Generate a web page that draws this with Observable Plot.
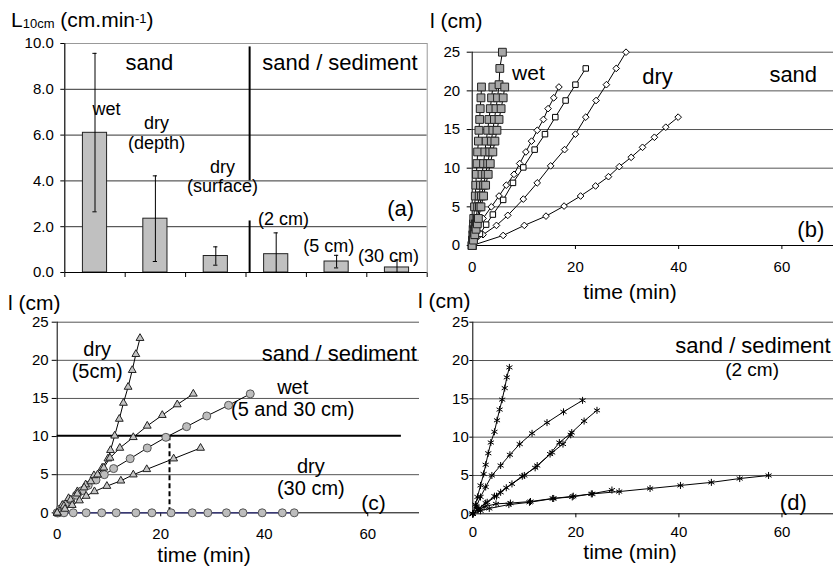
<!DOCTYPE html>
<html><head><meta charset="utf-8">
<script src="https://cdn.jsdelivr.net/npm/d3@7"></script>
<script src="https://cdn.jsdelivr.net/npm/@observablehq/plot@0.6"></script>
<style>
body{margin:0;background:#fff;}
#fig{position:relative;width:833px;height:566px;overflow:hidden;font-family:"Liberation Sans",Arial,Helvetica,sans-serif;color:#000;background:#fff;}
#fig svg{position:absolute;max-width:none;}
.lab{position:absolute;white-space:nowrap;line-height:1;font-size:21px;}
</style></head><body><div id="fig"></div>
<script>
// ---------- Panel (a) data ----------
const barCategories = ["wet", "dry (depth)", "dry (surface)", "(2 cm)", "(5 cm)", "(30 cm)"];
const barMeans = [6.1, 2.35, 0.72, 0.8, 0.48, 0.22];
const barErrLow = [2.65, 0.48, 0.32, 0.0, 0.2, 0.0];
const barErrHigh = [9.57, 4.22, 1.12, 1.73, 0.75, 0.55];
const aTicks = [0, 2, 4, 6, 8, 10];

// ---------- Panel (b) data: sand ----------
const bWet1_t = [0, 0.06, 0.12, 0.18, 0.25, 0.3, 0.45, 0.6, 0.7, 0.8, 0.95, 1.05, 1.2, 1.3, 1.45, 1.55, 1.7, 1.8];
const bWet1_l = [0, 0.7, 1.4, 2.1, 2.8, 3.5, 5.0, 6.4, 7.8, 9.2, 10.6, 12.1, 13.5, 14.9, 16.3, 17.7, 19.1, 20.5];
const bWet2_t = [0, 0.15, 0.3, 0.45, 0.6, 0.75, 1.05, 1.35, 1.6, 1.9, 2.2, 2.45, 2.7, 3.0, 3.25, 3.5, 3.75, 4.0];
const bWet2_l = [0, 0.7, 1.4, 2.1, 2.8, 3.5, 5.0, 6.4, 7.8, 9.2, 10.6, 12.1, 13.5, 14.9, 16.3, 17.7, 19.1, 20.5];
const bWet3_t = [0, 0.2, 0.4, 0.6, 0.8, 1.0, 1.4, 1.8, 2.2, 2.6, 3.0, 3.4, 3.7, 4.0, 4.3, 4.6, 4.9, 5.2, 5.35, 5.85];
const bWet3_l = [0, 0.7, 1.4, 2.1, 2.8, 3.5, 5.0, 6.4, 7.8, 9.2, 10.6, 12.1, 13.5, 14.9, 16.3, 17.7, 19.1, 20.8, 22.9, 25.0];
const bWet4_t = [0, 0.25, 0.5, 0.75, 1.0, 1.2, 1.7, 2.2, 2.6, 3.1, 3.5, 4.0, 4.4, 4.8, 5.2, 5.6, 6.0, 6.3];
const bWet4_l = [0, 0.7, 1.4, 2.1, 2.8, 3.5, 5.0, 6.4, 7.8, 9.2, 10.6, 12.1, 13.5, 14.9, 16.3, 17.7, 19.1, 20.5];
const bDryA_t = [0, 1.0, 2.1, 3.7, 5.2, 6.6, 8.1, 9.2, 10.4, 11.5, 12.6, 13.8, 14.7, 15.8, 16.8];
const bDryA_l = [0, 1.9, 3.5, 5.0, 6.4, 7.8, 9.2, 10.6, 12.1, 13.5, 14.9, 16.3, 17.7, 19.1, 20.5];
const bDrySq_t = [0, 1.5, 2.7, 4.0, 6.0, 7.9, 9.9, 12.1, 14.1, 16.1, 18.1, 20.0, 22.0];
const bDrySq_l = [0, 1.5, 2.7, 4.0, 5.9, 8.1, 10.1, 12.4, 14.4, 16.6, 18.75, 20.8, 22.9];
const bDryB_t = [0, 2.1, 4.7, 6.9, 9.9, 12.6, 15.2, 17.9, 20.0, 22.0, 24.0, 26.0, 27.9, 29.8];
const bDryB_l = [0, 1.4, 2.6, 3.9, 6.0, 8.1, 10.3, 12.4, 14.4, 16.6, 18.75, 20.8, 22.9, 25.0];
const bDryC_t = [0, 6.0, 10.1, 14.3, 17.8, 21.0, 23.9, 26.4, 28.5, 30.8, 33.0, 35.3, 37.5, 39.9];
const bDryC_l = [0, 1.3, 2.6, 3.8, 5.1, 6.4, 7.7, 8.9, 10.2, 11.4, 12.7, 14.0, 15.3, 16.6];

// ---------- Panel (c) data: sand / sediment ----------
const cDry5a_t = [0, 1.0, 2.2, 3.9, 5.5, 7.1, 8.7, 9.8, 10.3, 11.1, 12.0, 12.8, 13.7, 14.5, 15.2, 16.0];
const cDry5a_l = [0, 1.0, 1.9, 2.8, 3.7, 4.9, 5.9, 7.1, 8.2, 10.1, 12.3, 14.4, 16.5, 18.7, 20.8, 22.9];
const cDry5b_t = [0, 1.3, 2.6, 3.9, 5.2, 6.5, 7.8, 9.0, 10.2, 12.1, 14.7, 17.4, 20.3, 23.2, 26.3];
const cDry5b_l = [0, 0.9, 1.7, 2.5, 3.3, 4.1, 5.0, 5.9, 7.2, 8.5, 9.9, 11.4, 12.8, 14.2, 15.6];
const cWet_t = [0, 0.6, 1.5, 2.6, 3.7, 4.8, 6.0, 7.5, 9.1, 10.9, 14.1, 17.4, 21.0, 25.0, 28.9, 33.1, 37.3];
const cWet_l = [0, 0.5, 1.1, 1.7, 2.3, 2.9, 3.6, 4.3, 5.0, 5.8, 7.1, 8.5, 9.9, 11.3, 12.7, 14.1, 15.6];
const cDry30a_t = [0, 1.5, 2.9, 4.3, 5.6, 7.2, 9.6, 12.3, 14.7, 17.3, 22.5, 27.7];
const cDry30a_l = [0, 0.5, 1.0, 1.6, 2.2, 2.8, 3.5, 4.2, 5.0, 5.7, 7.1, 8.5];
const cDry30b_t = [0, 0.3, 1.3, 3.1, 5.6, 8.6, 11.4, 15.2, 18.3, 22.0, 26.1, 29.1, 32.7, 35.9, 39.6, 43.5, 45.8];
const cDry30b_l = [0, 0, 0, 0, 0, 0, 0, 0, 0, 0, 0, 0, 0, 0, 0, 0, 0];
const cThreshold = 10.1;
const cCrossTime = 21.7;

// ---------- Panel (d) data: sand / sediment (2 cm) ----------
const d1_t = [0, 0.5, 0.9, 1.5, 2.1, 2.5, 3.0, 3.5, 4.2, 4.7, 5.2, 5.7, 6.2, 6.6, 7.1];
const d1_l = [0, 1.2, 2.2, 3.7, 5.2, 6.4, 7.9, 9.3, 10.7, 12.2, 13.6, 14.9, 16.4, 17.8, 19.1];
const d2_t = [0, 0.7, 1.5, 2.5, 3.7, 5.4, 7.2, 9.1, 11.5, 14.4, 17.6, 21.3];
const d2_l = [0, 1.0, 2.2, 3.5, 5.0, 6.3, 7.7, 9.1, 10.5, 11.9, 13.3, 14.8];
const d3_t = [0, 1.2, 2.8, 4.6, 5.4, 7.6, 10.0, 12.5, 15.0, 16.8, 19.2, 21.6, 24.1];
const d3_l = [0, 0.7, 1.5, 2.3, 2.8, 3.9, 5.0, 6.3, 7.8, 9.3, 10.6, 12.1, 13.5];
const d4_t = [0, 1.0, 2.5, 4.2, 6.5, 9.6, 12.1, 15.4, 17.5, 19.0];
const d4_l = [0, 0.6, 1.4, 2.3, 3.4, 4.9, 6.0, 8.0, 9.1, 10.3];
const d5_t = [0, 1.5, 3.2, 7.0, 11.0, 15.7, 19.5, 23.2, 28.4, 34.4, 40.3, 46.3, 51.8, 57.4];
const d5_l = [0, 0.4, 0.7, 1.2, 1.5, 2.0, 2.3, 2.6, 2.9, 3.3, 3.7, 4.1, 4.6, 5.0];
const d6_t = [0, 1.0, 2.2, 4.5, 7.3, 11.2, 15.5, 19.3, 23.0, 27.0];
const d6_l = [0, 0.5, 0.9, 1.3, 1.4, 1.6, 2.0, 2.2, 2.6, 3.1];

const lTicks = [0, 5, 10, 15, 20, 25];
const timeTicks = [0, 20, 40, 60];

// ---------- helpers ----------
const FONT = '"Liberation Sans", Arial, Helvetica, sans-serif';
const fig = document.getElementById("fig");
function rows(name, ts, ls) { return ts.map((t, i) => ({s: name, t, l: ls[i]})); }
function place(svg, left, top) {
  svg.style.left = left + "px"; svg.style.top = top + "px";
  svg.style.maxWidth = "none"; svg.style.background = "transparent";
  fig.appendChild(svg);
}
function label(html, left, top, center) {
  const d = document.createElement("div");
  d.className = "lab"; d.innerHTML = html;
  d.style.left = left + "px"; d.style.top = top + "px";
  if (center) d.style.transform = "translateX(-50%)";
  fig.appendChild(d);
}
const baseStyle = {background: "transparent", fontFamily: FONT, fontSize: "15px", color: "#000", overflow: "visible"};
const txt = (s, o) => Plot.text([s], {text: d => d, fill: "#000", lineHeight: 1.1, ...o});

// ---------- Panel (a) ----------
const idx = barCategories.map((c, i) => i);
const svgA = Plot.plot({
  width: 440, height: 290,
  marginLeft: 64.3, marginRight: 13.3, marginTop: 43, marginBottom: 18,
  style: baseStyle,
  x: {domain: [0, barCategories.length], ticks: d3.range(0, barCategories.length + 1), tickFormat: () => "", tickSize: 5, label: null},
  y: {domain: [0, 10], ticks: aTicks, tickFormat: d3.format(".1f"), tickSize: 4, tickPadding: 7, label: null},
  marks: [
    Plot.ruleY([2, 4, 6, 8], {stroke: "#333", strokeWidth: 1}),
    Plot.frame({stroke: "#999"}),
    Plot.rect(idx, {x1: i => i + 0.3, x2: i => i + 0.7, y1: 0, y2: i => barMeans[i], fill: "#c0c0c0", stroke: "#222", strokeWidth: 1}),
    Plot.ruleX(idx, {x: i => i + 0.5, y1: i => barErrLow[i], y2: i => barErrHigh[i], stroke: "#000"}),
    Plot.ruleY(idx, {y: i => barErrHigh[i], x1: i => i + 0.465, x2: i => i + 0.535, stroke: "#000"}),
    Plot.ruleY(idx.filter(i => barErrLow[i] > 0), {y: i => barErrLow[i], x1: i => i + 0.465, x2: i => i + 0.535, stroke: "#000"}),
    Plot.ruleX([3.06], {y1: 4.0, y2: 9.85, stroke: "#000", strokeWidth: 2}),
    Plot.ruleX([3.06], {y1: 0, y2: 2.25, stroke: "#000", strokeWidth: 2}),
    Plot.ruleX([0], {stroke: "#000"}),
    Plot.ruleY([0], {stroke: "#000"}),
    txt("sand", {x: 1.40, y: 9.17, fontSize: 22}),
    txt("sand / sediment", {x: 3.27, y: 9.17, fontSize: 22, textAnchor: "start"}),
    txt("wet", {x: 0.69, y: 7.16, fontSize: 18}),
    txt("dry\n(depth)", {x: 1.52, y: 6.11, fontSize: 18}),
    txt("dry\n(surface)", {x: 2.61, y: 4.21, fontSize: 18}),
    txt("(a)", {x: 5.56, y: 2.79, fontSize: 22}),
    txt("(2 cm)", {x: 3.62, y: 2.36, fontSize: 18}),
    txt("(5 cm)", {x: 4.37, y: 1.18, fontSize: 18}),
    txt("(30 cm)", {x: 5.36, y: 0.74, fontSize: 18})
  ]
});
place(svgA, 0, 0);
label('L<span style="font-size:13px;vertical-align:-1px">10cm</span> (cm.min<span style="font-size:13px;vertical-align:4px">-1</span>)', 11, 9);

// ---------- Panel (b) ----------
const bWet = [
  ...rows("w1", bWet1_t, bWet1_l), ...rows("w2", bWet2_t, bWet2_l),
  ...rows("w3", bWet3_t, bWet3_l), ...rows("w4", bWet4_t, bWet4_l)
];
const bSq = rows("sq", bDrySq_t, bDrySq_l);
const bDia = [...rows("da", bDryA_t, bDryA_l), ...rows("db", bDryB_t, bDryB_l), ...rows("dc", bDryC_t, bDryC_l)];
const svgB = Plot.plot({
  width: 413, height: 300,
  marginLeft: 51.7, marginRight: 0, marginTop: 51.7, marginBottom: 55,
  style: baseStyle,
  x: {domain: [0, 70], ticks: timeTicks, tickSize: 4, tickPadding: 12, label: null},
  y: {domain: [0, 25], ticks: lTicks, tickSize: 5, tickPadding: 7, label: null},
  marks: [
    Plot.ruleY([5, 10, 15, 20, 25], {stroke: "#555"}),
    Plot.ruleX([0], {stroke: "#000"}),
    Plot.ruleY([0], {stroke: "#000"}),
    Plot.line(bDia, {x: "t", y: "l", z: "s", stroke: "#000", strokeWidth: 1}),
    Plot.line(bSq, {x: "t", y: "l", z: "s", stroke: "#000", strokeWidth: 1}),
    Plot.dot(bDia, {x: "t", y: "l", symbol: "diamond2", r: 3, fill: "#fff", stroke: "#000", strokeWidth: 1}),
    Plot.dot(bSq, {x: "t", y: "l", symbol: "square", r: 3.1, fill: "#fff", stroke: "#000", strokeWidth: 1}),
    Plot.line(bWet, {x: "t", y: "l", z: "s", stroke: "#000", strokeWidth: 1}),
    Plot.dot(bWet, {x: "t", y: "l", symbol: "square", r: 4.4, fill: "#a6a6a6", stroke: "#222", strokeWidth: 1}),
    txt("wet", {x: 10.9, y: 22.4, fontSize: 21}),
    txt("dry", {x: 35.9, y: 21.9, fontSize: 22}),
    txt("sand", {x: 62.2, y: 22.1, fontSize: 22}),
    txt("(b)", {x: 65.6, y: 2.13, fontSize: 22})
  ]
});
place(svgB, 420, 0);
label("l (cm)", 430, 10);
label("time (min)", 630, 281, true);

// ---------- Panel (c) ----------
const cTri = [...rows("t1", cDry5a_t, cDry5a_l), ...rows("t2", cDry5b_t, cDry5b_l), ...rows("t3", cDry30a_t, cDry30a_l)];
const cCirc = rows("c1", cWet_t, cWet_l);
const cFlat = rows("c2", cDry30b_t, cDry30b_l);
const svgC = Plot.plot({
  width: 430, height: 286,
  marginLeft: 56.7, marginRight: 11, marginTop: 41.7, marginBottom: 53.7,
  style: baseStyle,
  x: {domain: [0, 70], ticks: timeTicks, tickSize: 4, tickPadding: 12, label: null},
  y: {domain: [0, 25], ticks: lTicks, tickSize: 5, tickPadding: 3.5, label: null},
  marks: [
    Plot.ruleY([5, 15, 20, 25], {stroke: "#555"}),
    Plot.ruleX([0], {stroke: "#000"}),
    Plot.ruleY([0], {stroke: "#000"}),
    Plot.ruleY([cThreshold], {x1: 0, x2: 66.5, stroke: "#000", strokeWidth: 2}),
    Plot.ruleX([cCrossTime], {y1: 0, y2: cThreshold, stroke: "#000", strokeWidth: 2, strokeDasharray: "5,3"}),
    Plot.line(cTri, {x: "t", y: "l", z: "s", stroke: "#000", strokeWidth: 1}),
    Plot.line(cCirc, {x: "t", y: "l", z: "s", stroke: "#000", strokeWidth: 1}),
    Plot.line(cFlat, {x: "t", y: "l", z: "s", stroke: "#33337f", strokeWidth: 1.2}),
    Plot.dot(cCirc, {x: "t", y: "l", symbol: "circle", r: 4, fill: "#bdbdbd", stroke: "#555", strokeWidth: 1}),
    Plot.dot(cFlat, {x: "t", y: "l", symbol: "circle", r: 4, fill: "#bdbdbd", stroke: "#555", strokeWidth: 1}),
    Plot.dot(cTri, {x: "t", y: "l", symbol: "triangle", r: 2.9, fill: "#c4c4c4", stroke: "#222", strokeWidth: 1}),
    txt("dry\n(5cm)", {x: 7.73, y: 20.0, fontSize: 20}),
    txt("sand / sediment", {x: 39.5, y: 20.9, fontSize: 22, textAnchor: "start"}),
    txt("wet\n(5 and 30 cm)", {x: 45.5, y: 15.1, fontSize: 20}),
    txt("dry\n(30 cm)", {x: 49.0, y: 4.72, fontSize: 20}),
    txt("(c)", {x: 61.1, y: 1.39, fontSize: 21})
  ]
});
place(svgC, 0, 280);
label("l (cm)", 8, 292);
label("time (min)", 204, 544, true);

// ---------- Panel (d) ----------
const dAll = [
  ...rows("d1", d1_t, d1_l), ...rows("d2", d2_t, d2_l), ...rows("d3", d3_t, d3_l),
  ...rows("d4", d4_t, d4_l), ...rows("d5", d5_t, d5_l), ...rows("d6", d6_t, d6_l)
];
const svgD = Plot.plot({
  width: 413, height: 286,
  marginLeft: 52.3, marginRight: 0, marginTop: 41.7, marginBottom: 52.7,
  style: baseStyle,
  x: {domain: [0, 70], ticks: timeTicks, tickSize: 4, tickPadding: 9, label: null},
  y: {domain: [0, 25], ticks: lTicks, tickSize: 3, tickPadding: 1, label: null},
  marks: [
    Plot.ruleY([5, 10, 15, 20, 25], {stroke: "#555"}),
    Plot.ruleX([0], {stroke: "#000"}),
    Plot.ruleY([0], {stroke: "#000"}),
    Plot.line(dAll, {x: "t", y: "l", z: "s", stroke: "#000", strokeWidth: 1}),
    Plot.dot(dAll, {x: "t", y: "l", symbol: "asterisk", r: 3.3, stroke: "#000", strokeWidth: 1}),
    txt("sand / sediment", {x: 39.3, y: 22.0, fontSize: 22, textAnchor: "start"}),
    txt("(2 cm)", {x: 54.2, y: 18.9, fontSize: 19}),
    txt("(d)", {x: 62.2, y: 1.51, fontSize: 22})
  ]
});
place(svgD, 420, 280);
label("l (cm)", 418, 290);
label("time (min)", 630, 541, true);
</script>
</body></html>
